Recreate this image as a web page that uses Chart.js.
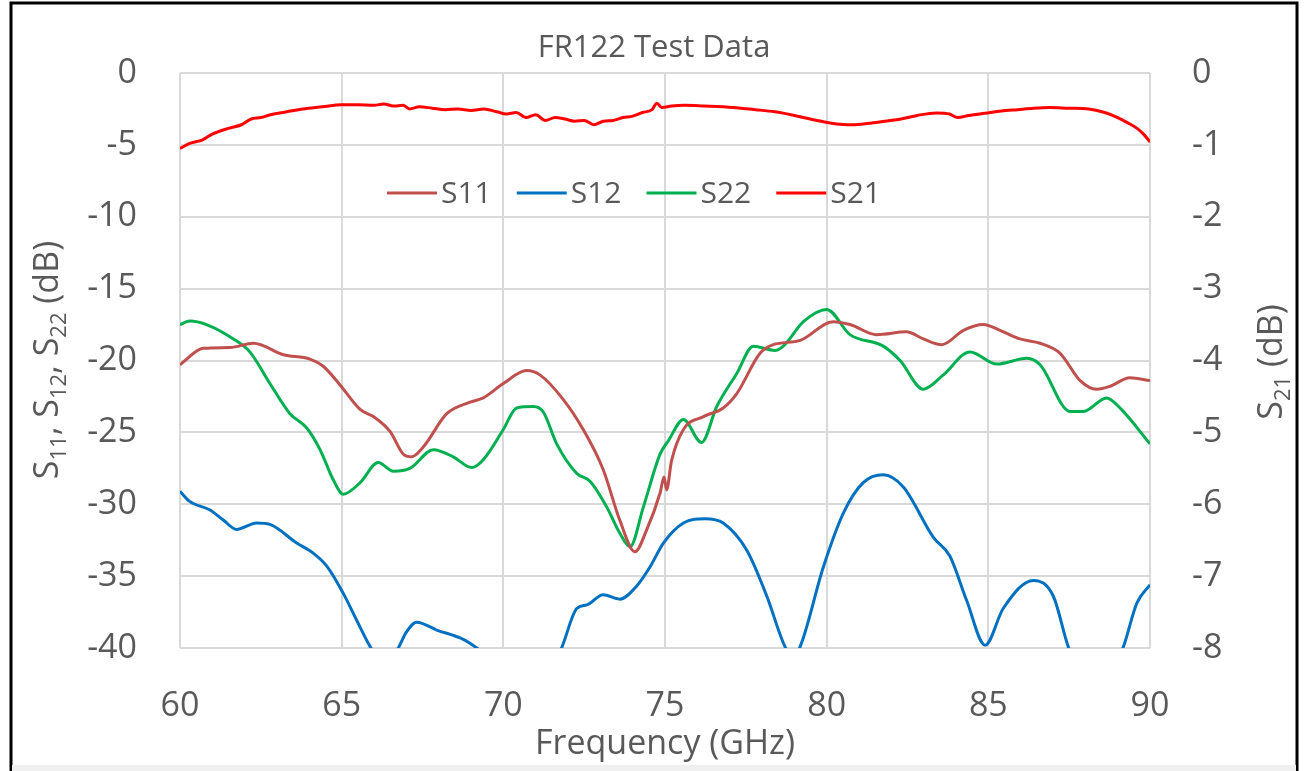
<!DOCTYPE html>
<html>
<head>
<meta charset="utf-8">
<script src="https://cdn.jsdelivr.net/npm/chart.js@4/dist/chart.umd.min.js"></script>
<style>
  html, body { margin: 0; padding: 0; background: #fff; }
  #wrap { width: 1307px; height: 771px; position: relative; }
</style>
</head>
<body>
<div id="wrap"><canvas id="grafico"></canvas></div>
<script>
// Valores (frequência em GHz, valores em dB)
const freqS11 = [60, 60.72, 61.55, 62.27, 63.2, 64.02, 64.43, 64.95, 65.57, 65.98, 66.5, 66.9, 67.16, 67.53, 68.25, 68.97, 69.38, 70.0, 70.72, 71.13, 71.85, 72.47, 73.09, 73.6, 74.07, 74.43, 74.85, 74.97, 75.05, 75.2, 75.57, 76.19, 76.8, 77.22, 77.94, 78.35, 79.18, 80.2, 80.72, 81.55, 82.47, 82.99, 83.56, 84.23, 84.85, 85.36, 85.98, 86.6, 87.22, 87.84, 88.35, 88.76, 89.38, 90];
const s11 = [-20.3, -19.15, -19.1, -18.8, -19.6, -19.9, -20.4, -21.7, -23.4, -23.9, -24.95, -26.5, -26.7, -26.0, -23.7, -22.9, -22.6, -21.6, -20.7, -21.0, -22.7, -24.8, -27.6, -31.1, -33.3, -31.8, -29.2, -28.1, -29.0, -27.0, -24.8, -23.9, -23.3, -22.3, -19.5, -18.9, -18.6, -17.3, -17.5, -18.2, -18.0, -18.5, -18.9, -17.9, -17.5, -17.9, -18.5, -18.8, -19.5, -21.4, -22.0, -21.8, -21.2, -21.4];

const freqS12 = [60, 60.3, 60.93, 61.34, 61.75, 62.37, 62.78, 63.61, 64.12, 64.54, 65.05, 65.46, 65.88, 66.3, 66.75, 67.0, 67.32, 67.94, 68.76, 69.18, 70.0, 70.6, 71.2, 71.8, 72.27, 72.58, 73.09, 73.6, 74.12, 74.54, 74.95, 75.57, 76.24, 76.8, 77.53, 78.15, 78.71, 78.95, 79.18, 79.9, 80.52, 81.13, 81.75, 82.37, 83.3, 83.81, 84.33, 84.9, 85.46, 86.39, 87.01, 87.47, 88.3, 89.18, 89.59, 90];
const s12 = [-29.1, -29.8, -30.4, -31.1, -31.75, -31.3, -31.4, -32.7, -33.4, -34.3, -36.2, -38.05, -39.9, -41.3, -40.0, -38.9, -38.2, -38.75, -39.4, -40.0, -41.5, -43.0, -42.5, -40.0, -37.25, -37.0, -36.3, -36.6, -35.7, -34.35, -32.7, -31.3, -31.0, -31.3, -33.2, -36.4, -39.9, -40.6, -39.9, -34.35, -30.6, -28.5, -27.95, -28.8, -32.3, -33.6, -36.7, -39.8, -37.25, -35.3, -36.4, -39.9, -44.0, -39.9, -36.9, -35.6];

const freqS22 = [60, 60.3, 60.82, 61.65, 62.16, 62.78, 63.4, 63.92, 64.33, 64.74, 65.05, 65.57, 66.13, 66.6, 67.11, 67.84, 68.45, 69.02, 69.38, 70.0, 70.41, 70.93, 71.24, 71.65, 72.27, 72.68, 73.2, 73.6, 73.92, 74.33, 74.85, 75.1, 75.57, 76.13, 76.6, 77.22, 77.73, 78.4, 78.66, 79.28, 80.0, 80.72, 81.75, 82.27, 82.99, 83.61, 84.43, 85.26, 86.19, 86.6, 87.53, 87.94, 88.66, 89.07, 90];
const s22 = [-17.5, -17.25, -17.5, -18.5, -19.4, -21.6, -23.7, -24.7, -26.2, -28.3, -29.3, -28.5, -27.1, -27.7, -27.5, -26.2, -26.7, -27.45, -26.9, -24.8, -23.3, -23.2, -23.6, -25.8, -27.85, -28.4, -30.2, -32.0, -32.95, -30.2, -26.5, -25.6, -24.1, -25.7, -23.2, -20.9, -19.0, -19.3, -19.0, -17.3, -16.45, -18.2, -19.0, -20.0, -22.0, -21.0, -19.4, -20.25, -19.85, -20.3, -23.55, -23.55, -22.6, -23.3, -25.8];

const freqS21 = [60, 60.3, 60.7, 61.0, 61.5, 61.9, 62.2, 62.5, 62.8, 63.3, 63.8, 64.4, 65.0, 65.5, 66.0, 66.3, 66.6, 66.9, 67.1, 67.4, 67.8, 68.2, 68.6, 69.0, 69.4, 69.8, 70.1, 70.4, 70.7, 71.0, 71.3, 71.6, 71.9, 72.2, 72.5, 72.8, 73.1, 73.4, 73.7, 74.0, 74.3, 74.6, 74.75, 74.9, 75.2, 75.6, 76.2, 77.1, 77.8, 78.4, 79.0, 79.7, 80.3, 80.8, 81.3, 81.8, 82.3, 82.8, 83.4, 83.8, 84.05, 84.4, 84.9, 85.4, 85.9, 86.4, 86.9, 87.5, 88.1, 88.6, 89.0, 89.3, 89.6, 89.8, 90];
const s21 = [-1.05, -0.98, -0.93, -0.85, -0.77, -0.72, -0.64, -0.62, -0.58, -0.54, -0.50, -0.47, -0.44, -0.44, -0.45, -0.43, -0.46, -0.45, -0.50, -0.47, -0.49, -0.51, -0.50, -0.52, -0.50, -0.54, -0.57, -0.55, -0.62, -0.58, -0.66, -0.62, -0.64, -0.67, -0.66, -0.72, -0.67, -0.66, -0.62, -0.60, -0.55, -0.51, -0.42, -0.48, -0.46, -0.45, -0.46, -0.48, -0.51, -0.54, -0.59, -0.66, -0.71, -0.72, -0.70, -0.67, -0.64, -0.59, -0.555, -0.57, -0.62, -0.59, -0.56, -0.53, -0.51, -0.49, -0.48, -0.49, -0.50, -0.55, -0.62, -0.69, -0.77, -0.85, -0.96];

const ticksFreq = [60, 65, 70, 75, 80, 85, 90];

const FONTE = "'Open Sans', 'Noto Sans', sans-serif";
const CINZA = "#595959";

function pares(xs, ys) {
  return xs.map((x, i) => ({ x: x, y: ys[i] }));
}

// texto com subscritos: partes = [[texto, ehSub], ...]
function larguraPartes(ctx, partes, tam, tamSub) {
  let w = 0;
  partes.forEach(([t, sub]) => {
    ctx.font = `${sub ? tamSub : tam}px ${FONTE}`;
    w += ctx.measureText(t).width;
  });
  return w;
}

function desenhaPartes(ctx, partes, cx, cy, tam, tamSub) {
  const w = larguraPartes(ctx, partes, tam, tamSub);
  let x = cx - w / 2;
  ctx.textBaseline = "alphabetic";
  ctx.textAlign = "left";
  partes.forEach(([t, sub]) => {
    ctx.font = `${sub ? tamSub : tam}px ${FONTE}`;
    ctx.fillText(t, x, cy + tam * 0.36 + (sub ? tam * 0.22 : 0));
    x += ctx.measureText(t).width;
  });
}

// Título, legenda, títulos dos eixos e moldura
const decoracao = {
  id: "decoracao",
  afterDatasetsDraw(chart) {
    const ctx = chart.ctx;
    ctx.save();

    // legenda dentro da área do gráfico
    let x = 387;
    const y = 193;
    ctx.font = `30px ${FONTE}`;
    ctx.textBaseline = "middle";
    ctx.textAlign = "left";
    chart.data.datasets.forEach(ds => {
      ctx.strokeStyle = ds.borderColor;
      ctx.lineWidth = 3;
      ctx.beginPath();
      ctx.moveTo(x, y);
      ctx.lineTo(x + 50, y);
      ctx.stroke();
      ctx.fillStyle = CINZA;
      ctx.fillText(ds.label, x + 54, y + 1);
      x += 54 + ctx.measureText(ds.label).width + 25;
    });

    // título
    ctx.fillStyle = CINZA;
    ctx.font = `31px ${FONTE}`;
    ctx.textAlign = "center";
    ctx.fillText("FR122 Test Data", 654, 48);

    // título eixo x
    ctx.font = `34px ${FONTE}`;
    ctx.fillText("Frequency (GHz)", 665, 744);

    // títulos eixos y (girados)
    ctx.save();
    ctx.translate(46, 360);
    ctx.rotate(-Math.PI / 2);
    desenhaPartes(ctx, [["S", false], ["11", true], [", S", false], ["12", true], [", S", false], ["22", true], [" (dB)", false]], 0, 0, 34, 22);
    ctx.restore();

    ctx.save();
    ctx.translate(1270, 362);
    ctx.rotate(-Math.PI / 2);
    desenhaPartes(ctx, [["S", false], ["21", true], [" (dB)", false]], 0, 0, 34, 22);
    ctx.restore();

    // moldura
    ctx.strokeStyle = "#000";
    ctx.lineWidth = 3;
    ctx.beginPath();
    ctx.moveTo(11, 771);
    ctx.lineTo(11, 3);
    ctx.lineTo(1297, 3);
    ctx.lineTo(1297, 771);
    ctx.stroke();
    ctx.fillStyle = "#f0f0f0";
    ctx.fillRect(12, 765, 1284, 6);

    ctx.restore();
  }
};

function serie(label, xs, ys, cor, eixo) {
  return {
    label: label,
    data: pares(xs, ys),
    yAxisID: eixo,
    borderColor: cor,
    backgroundColor: cor,
    borderWidth: 3,
    pointRadius: 0,
    showLine: true,
    cubicInterpolationMode: "monotone",
    clip: 0
  };
}

new Chart(document.getElementById("grafico").getContext("2d"), {
  type: "scatter",
  data: {
    datasets: [
      serie("S11", freqS11, s11, "#C0504D", "y"),
      serie("S12", freqS12, s12, "#0070C0", "y"),
      serie("S22", freqS22, s22, "#00B050", "y"),
      serie("S21", freqS21, s21, "#FF0000", "y2")
    ]
  },
  options: {
    responsive: true,
    maintainAspectRatio: false,
    animation: false,
    layout: { padding: { top: 73, left: 0, right: 0, bottom: 0 } },
    plugins: {
      legend: { display: false },
      title: { display: false },
      tooltip: { enabled: false }
    },
    scales: {
      x: {
        type: "linear",
        min: 60,
        max: 90,
        afterBuildTicks: s => { s.ticks = ticksFreq.map(v => ({ value: v })); },
        afterFit: s => { s.height = 123; },
        grid: { color: "#D9D9D9", lineWidth: 2, drawTicks: false },
        border: { display: false },
        ticks: { color: CINZA, font: { family: FONTE, size: 34 }, padding: 38 }
      },
      y: {
        position: "left",
        min: -40,
        max: 0,
        ticks: { stepSize: 5, color: CINZA, font: { family: FONTE, size: 34 }, padding: 43 },
        afterFit: s => { s.width = 180; },
        grid: { color: "#D9D9D9", lineWidth: 2, drawTicks: false },
        border: { display: false }
      },
      y2: {
        position: "right",
        min: -8,
        max: 0,
        ticks: { stepSize: 1, color: CINZA, font: { family: FONTE, size: 34 }, padding: 42 },
        afterFit: s => { s.width = 157; },
        grid: { display: false, drawTicks: false },
        border: { display: false }
      }
    }
  },
  plugins: [decoracao]
});
</script>
</body>
</html>
